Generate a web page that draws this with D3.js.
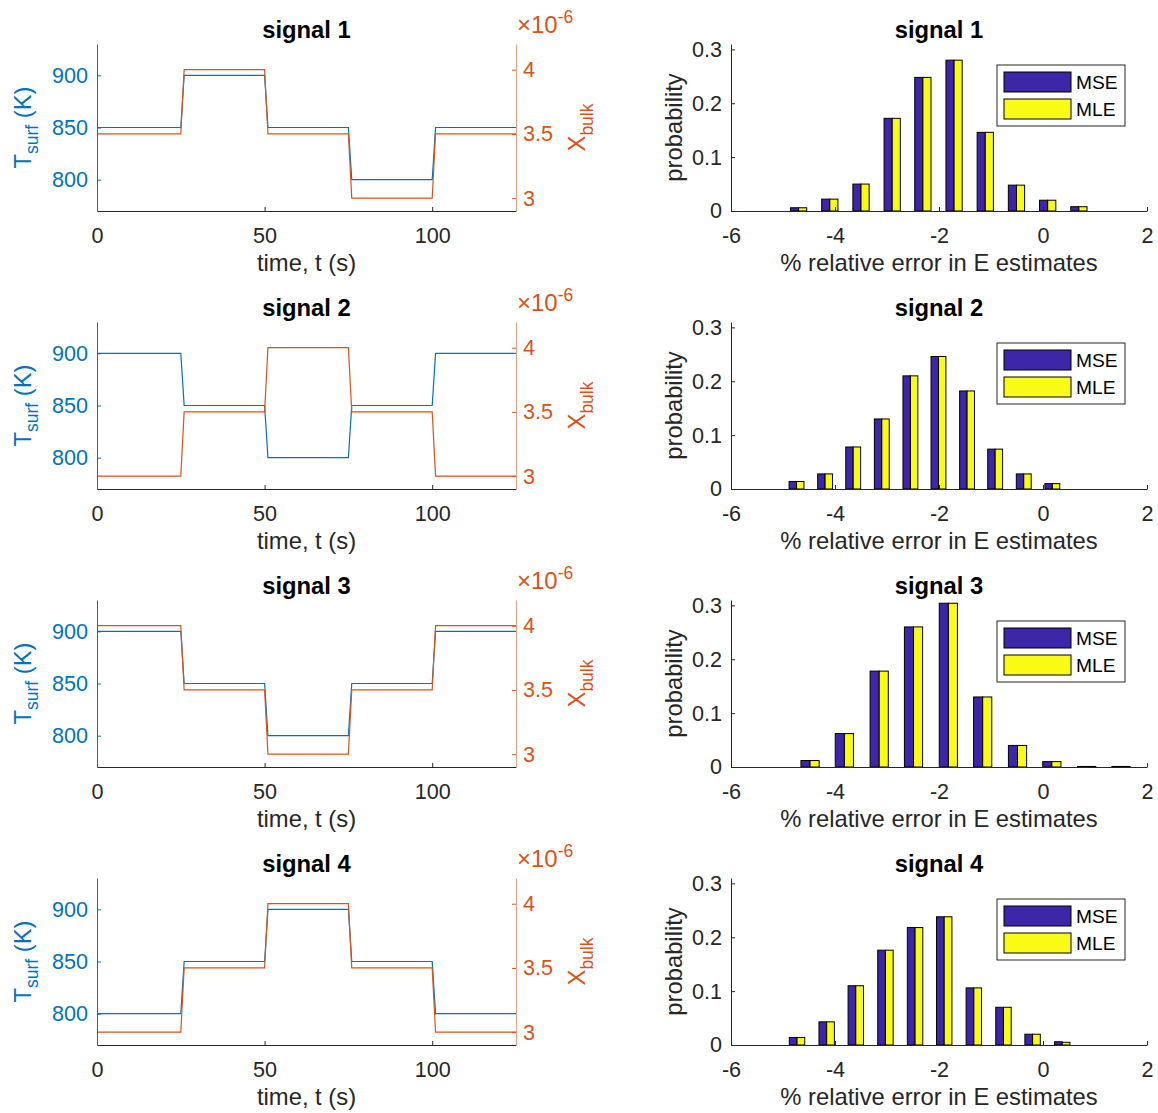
<!DOCTYPE html>
<html>
<head>
<meta charset="utf-8">
<script src="https://cdn.jsdelivr.net/npm/d3@7"></script>
<style>
  body { margin: 0; background: #fff; }
  svg { display: block; }
  text { font-family: "Liberation Sans", Arial, Helvetica, sans-serif; }
</style>
</head>
<body>
<svg id="fig" width="1158" height="1113"></svg>
<script>
// ---- time histories of the four input signals ----
const signalNames = ["signal 1", "signal 2", "signal 3", "signal 4"];
const timePoints = [0, 25, 26, 50, 51, 75, 76, 100, 101, 125];

const tsurfSignal1 = [850, 850, 900, 900, 850, 850, 800, 800, 850, 850];
const xbulkSignal1 = [3.5e-6, 3.5e-6, 4e-6, 4e-6, 3.5e-6, 3.5e-6, 3e-6, 3e-6, 3.5e-6, 3.5e-6];
const tsurfSignal2 = [900, 900, 850, 850, 800, 800, 850, 850, 900, 900];
const xbulkSignal2 = [3e-6, 3e-6, 3.5e-6, 3.5e-6, 4e-6, 4e-6, 3.5e-6, 3.5e-6, 3e-6, 3e-6];
const tsurfSignal3 = [900, 900, 850, 850, 800, 800, 850, 850, 900, 900];
const xbulkSignal3 = [4e-6, 4e-6, 3.5e-6, 3.5e-6, 3e-6, 3e-6, 3.5e-6, 3.5e-6, 4e-6, 4e-6];
const tsurfSignal4 = [800, 800, 850, 850, 900, 900, 850, 850, 800, 800];
const xbulkSignal4 = [3e-6, 3e-6, 3.5e-6, 3.5e-6, 4e-6, 4e-6, 3.5e-6, 3.5e-6, 3e-6, 3e-6];

// ---- histograms of the % relative error in E ----
const binCenters1 = [-4.70, -4.10, -3.50, -2.90, -2.31, -1.71, -1.11, -0.51, 0.09, 0.69];
const mse1 = [0.006, 0.022, 0.050, 0.172, 0.248, 0.280, 0.146, 0.048, 0.020, 0.008];
const mle1 = [0.006, 0.022, 0.050, 0.172, 0.248, 0.280, 0.146, 0.048, 0.020, 0.008];

const binCenters2 = [-4.74, -4.19, -3.65, -3.10, -2.55, -2.01, -1.46, -0.92, -0.37, 0.18];
const mse2 = [0.014, 0.028, 0.078, 0.130, 0.210, 0.246, 0.182, 0.074, 0.028, 0.010];
const mle2 = [0.014, 0.028, 0.078, 0.130, 0.210, 0.246, 0.182, 0.074, 0.028, 0.010];

const binCenters3 = [-4.48, -3.82, -3.15, -2.49, -1.82, -1.16, -0.49, 0.17, 0.84, 1.50];
const mse3 = [0.012, 0.062, 0.178, 0.260, 0.304, 0.130, 0.040, 0.010, 0.001, 0.001];
const mle3 = [0.012, 0.062, 0.178, 0.260, 0.304, 0.130, 0.040, 0.010, 0.001, 0.001];

const binCenters4 = [-4.73, -4.16, -3.60, -3.03, -2.46, -1.90, -1.33, -0.76, -0.20, 0.37];
const mse4 = [0.014, 0.043, 0.110, 0.176, 0.218, 0.238, 0.106, 0.070, 0.020, 0.006];
const mle4 = [0.014, 0.043, 0.110, 0.176, 0.218, 0.238, 0.106, 0.070, 0.020, 0.005];

// ---- axis limits and tick labels ----
const timeDomain = [0, 125];
const timeTicks = [0, 50, 100];
const tsurfDomain = [770, 930];
const tsurfTicks = [800, 850, 900];
const xbulkDomain = [2.9e-6, 4.2e-6];
const xbulkTicks = [3e-6, 3.5e-6, 4e-6];
const errDomain = [-6, 2];
const errTicks = [-6, -4, -2, 0, 2];
const probDomain = [0, 0.31];
const probTicks = [0, 0.1, 0.2, 0.3];
const seriesNames = ["MSE", "MLE"];

const tsurfSets = [tsurfSignal1, tsurfSignal2, tsurfSignal3, tsurfSignal4];
const xbulkSets = [xbulkSignal1, xbulkSignal2, xbulkSignal3, xbulkSignal4];
const binSets = [binCenters1, binCenters2, binCenters3, binCenters4];
const mseSets = [mse1, mse2, mse3, mse4];
const mleSets = [mle1, mle2, mle3, mle4];

// ---- styling ----
const BLUE = "#0072BD", ORANGE = "#D95319", AXIS = "#262626";
const BAR_COLORS = ["#3E26A8", "#F9FB15"];
const TICK_FS = 21.6, LABEL_FS = 23.8, LEG_FS = 19.2, SUB_FS = 17.5;
const ROW_TOP = 44, ROW_STEP = 278, PLOT_H = 167;
const LEFT_X = [97, 516], RIGHT_X = [731, 1147];
const TICK_LEN = 4;

const svg = d3.select("#fig");

function styleAxis(g, color) {
  g.attr("font-family", null).attr("font-size", TICK_FS);
  g.selectAll("text").attr("fill", color);
  g.selectAll("line").attr("stroke", color);
  g.select(".domain").attr("stroke", color);
}

function subscriptLabel(g, x, y, main, sub, tail, color, drop) {
  const t = g.append("text")
    .attr("transform", `translate(${x},${y}) rotate(-90)`)
    .attr("text-anchor", "middle")
    .attr("fill", color)
    .attr("font-size", LABEL_FS);
  t.append("tspan").text(main);
  t.append("tspan").attr("font-size", SUB_FS).attr("dy", drop).text(sub);
  if (tail) t.append("tspan").attr("dy", -drop).text(tail);
}

function drawSignalPanel(i) {
  const top = ROW_TOP + ROW_STEP * i, bottom = top + PLOT_H;
  const g = svg.append("g");
  const x = d3.scaleLinear().domain(timeDomain).range(LEFT_X);
  const yT = d3.scaleLinear().domain(tsurfDomain).range([bottom, top]);
  const yX = d3.scaleLinear().domain(xbulkDomain).range([bottom, top]);

  const tsurf = tsurfSets[i], xbulk = xbulkSets[i];
  const lineT = d3.line().x((d, k) => x(timePoints[k])).y(d => yT(d));
  const lineX = d3.line().x((d, k) => x(timePoints[k])).y(d => yX(d));

  g.append("path").datum(tsurf).attr("d", lineT)
    .attr("fill", "none").attr("stroke", BLUE).attr("stroke-width", 1.2);
  g.append("path").datum(xbulk).attr("d", lineX)
    .attr("fill", "none").attr("stroke", ORANGE).attr("stroke-width", 1.2);

  // bottom axis
  const gx = g.append("g").attr("transform", `translate(0,${bottom})`)
    .call(d3.axisBottom(x).tickValues(timeTicks).tickSize(-TICK_LEN).tickSizeOuter(0)
      .tickPadding(17).tickFormat(d => String(d)));
  styleAxis(gx, AXIS);

  // left axis: surface temperature
  const gyl = g.append("g").attr("transform", `translate(${LEFT_X[0]},0)`)
    .call(d3.axisLeft(yT).tickValues(tsurfTicks).tickSize(-TICK_LEN).tickSizeOuter(0)
      .tickPadding(9).tickFormat(d => String(d)));
  styleAxis(gyl, BLUE);

  // right axis: bulk concentration
  const gyr = g.append("g").attr("transform", `translate(${LEFT_X[1]},0)`)
    .call(d3.axisRight(yX).tickValues(xbulkTicks).tickSize(-TICK_LEN).tickSizeOuter(0)
      .tickPadding(7).tickFormat(d => d3.format("~g")(+(d * 1e6).toFixed(2))));
  styleAxis(gyr, ORANGE);
  gyr.select(".domain").attr("stroke", "#EC9C7F");

  // exponent marker above the right axis
  const ex = g.append("text").attr("x", LEFT_X[1] + 1).attr("y", top - 11)
    .attr("fill", ORANGE).attr("font-size", 24);
  ex.append("tspan").text("\u00d710");
  ex.append("tspan").attr("dy", -10).attr("font-size", 17.5).text("-6");

  // title and labels
  g.append("text").attr("x", (LEFT_X[0] + LEFT_X[1]) / 2).attr("y", top - 6)
    .attr("text-anchor", "middle").attr("font-weight", "bold")
    .attr("font-size", LABEL_FS).attr("fill", "#000").text(signalNames[i]);
  g.append("text").attr("x", (LEFT_X[0] + LEFT_X[1]) / 2).attr("y", bottom + 60)
    .attr("text-anchor", "middle").attr("font-size", LABEL_FS).attr("fill", AXIS)
    .text("time, t (s)");
  subscriptLabel(g, 31, (top + bottom) / 2, "T", "surf", " (K)", BLUE, 7);
  subscriptLabel(g, 585, (top + bottom) / 2, "X", "bulk", null, ORANGE, 8);
}

function drawHistPanel(i) {
  const top = ROW_TOP + ROW_STEP * i, bottom = top + PLOT_H;
  const g = svg.append("g");
  const x = d3.scaleLinear().domain(errDomain).range(RIGHT_X);
  const y = d3.scaleLinear().domain(probDomain).range([bottom, top]);

  const centers = binSets[i];
  const spacing = d3.min(d3.pairs(centers), p => p[1] - p[0]);
  const barW = 0.265 * spacing;
  const series = [mseSets[i], mleSets[i]];

  series.forEach((vals, s) => {
    g.append("g").selectAll("rect").data(vals).join("rect")
      .attr("x", (d, k) => x(centers[k] - barW + s * barW))
      .attr("width", x(barW) - x(0))
      .attr("y", d => y(d))
      .attr("height", d => y(0) - y(d))
      .attr("fill", BAR_COLORS[s])
      .attr("stroke", "#000").attr("stroke-width", 1);
  });

  const gx = g.append("g").attr("transform", `translate(0,${bottom})`)
    .call(d3.axisBottom(x).tickValues(errTicks).tickSize(-TICK_LEN).tickSizeOuter(0)
      .tickPadding(17).tickFormat(d => String(d)));
  styleAxis(gx, AXIS);

  const gy = g.append("g").attr("transform", `translate(${RIGHT_X[0]},0)`)
    .call(d3.axisLeft(y).tickValues(probTicks).tickSize(-TICK_LEN).tickSizeOuter(0)
      .tickPadding(9).tickFormat(d => d === 0 ? "0" : d3.format(".1f")(d)));
  styleAxis(gy, AXIS);

  g.append("text").attr("x", (RIGHT_X[0] + RIGHT_X[1]) / 2).attr("y", top - 6)
    .attr("text-anchor", "middle").attr("font-weight", "bold")
    .attr("font-size", LABEL_FS).attr("fill", "#000").text(signalNames[i]);
  g.append("text").attr("x", (RIGHT_X[0] + RIGHT_X[1]) / 2).attr("y", bottom + 60)
    .attr("text-anchor", "middle").attr("font-size", LABEL_FS).attr("fill", AXIS)
    .text("% relative error in E estimates");
  g.append("text")
    .attr("transform", `translate(682,${(top + bottom) / 2}) rotate(-90)`)
    .attr("text-anchor", "middle").attr("font-size", LABEL_FS).attr("fill", AXIS)
    .text("probability");

  // legend
  const lg = g.append("g").attr("transform", `translate(${RIGHT_X[1] - 150},${top + 21})`);
  lg.append("rect").attr("width", 128).attr("height", 61)
    .attr("fill", "#fff").attr("stroke", AXIS).attr("stroke-width", 1);
  seriesNames.forEach((name, s) => {
    lg.append("rect").attr("x", 7).attr("y", 7 + s * 27).attr("width", 67).attr("height", 20)
      .attr("fill", BAR_COLORS[s]).attr("stroke", "#000").attr("stroke-width", 1);
    lg.append("text").attr("x", 79).attr("y", 17 + s * 27).attr("dy", "0.35em")
      .attr("font-size", LEG_FS).attr("fill", "#000").text(name);
  });
}

for (let i = 0; i < 4; i++) {
  drawSignalPanel(i);
  drawHistPanel(i);
}
</script>
</body>
</html>
